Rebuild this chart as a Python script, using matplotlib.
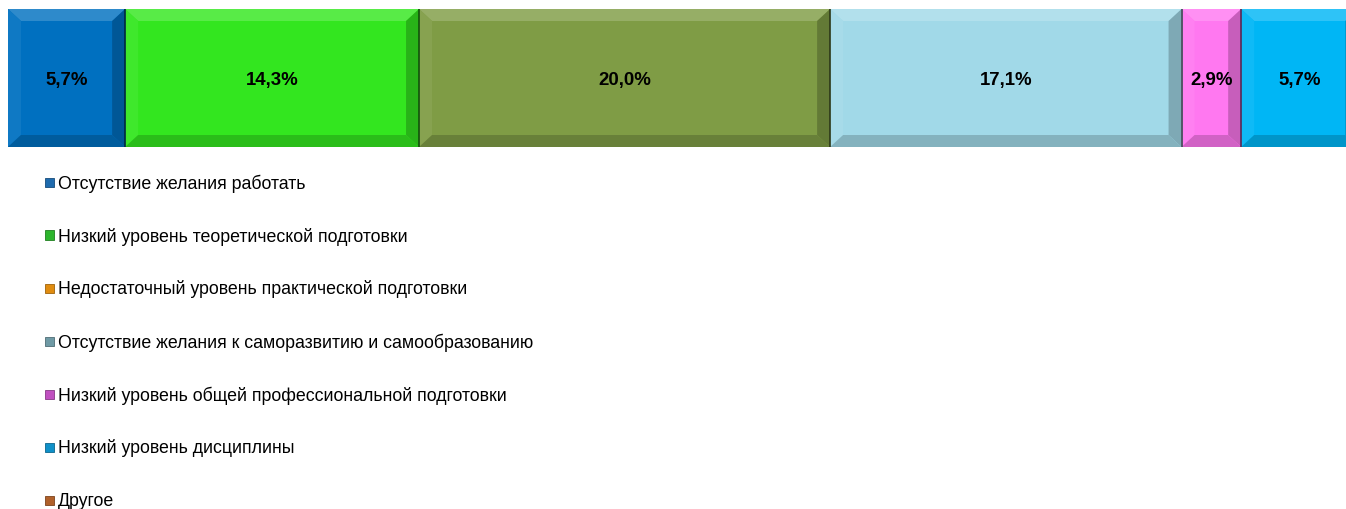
import matplotlib
matplotlib.use("Agg")
import matplotlib.pyplot as plt
from matplotlib.patches import Polygon, Rectangle
from matplotlib import font_manager
import matplotlib.colors as mcolors

categories = [
    "Отсутствие желания работать",
    "Низкий уровень теоретической подготовки",
    "Недостаточный уровень практической подготовки",
    "Отсутствие желания к саморазвитию и самообразованию",
    "Низкий уровень общей профессиональной подготовки",
    "Низкий уровень дисциплины",
    "Другое",
]
values = [5.7, 14.3, 20.0, 17.1, 2.9, 5.7, 34.3]
labels = ["5,7%", "14,3%", "20,0%", "17,1%", "2,9%", "5,7%", "34,3%"]
bar_colors = ["#0070C0", "#33E61F", "#7F9C45", "#A1D9E8", "#FF78F0", "#00B6F5", "#C0672E"]
legend_colors = ["#1F6BAE", "#2DB52D", "#E08C10", "#6F9AA5", "#C050C0", "#0F90C8", "#B0602A"]
x_max = 65.1

names = {f.name for f in font_manager.fontManager.ttflist}
narrow = "Liberation Sans Narrow" if "Liberation Sans Narrow" in names else "Liberation Sans"
plt.rcParams['font.family'] = [narrow, 'DejaVu Sans']

W, H = 1346, 510
fig = plt.figure(figsize=(W / 100, H / 100), dpi=100)
ax = fig.add_axes([8 / W, (H - 148) / H, (1346 - 8) / W, 138 / H])
ax.set_xlim(0, x_max)
ax.set_ylim(-0.5, 0.5)
ax.axis("off")

px_x = (1346 - 8) / x_max  # pixels per unit
bx = 13 / px_x
by = 12 / 138


def shade(c, f):
    r, g, b = mcolors.to_rgb(c)
    if f > 0:
        return (r + (1 - r) * f, g + (1 - g) * f, b + (1 - b) * f)
    return (r * (1 + f), g * (1 + f), b * (1 + f))


left = 0.0
for v, lab, col in zip(values, labels, bar_colors):
    bars = ax.barh(0, v, left=left, height=1.0, color=col, edgecolor="none")
    p = bars[0]
    x0, x1 = p.get_x(), p.get_x() + p.get_width()
    y0, y1 = p.get_y(), p.get_y() + p.get_height()
    # bevel edges
    ax.add_patch(Polygon([(x0, y1), (x1, y1), (x1 - bx, y1 - by), (x0 + bx, y1 - by)],
                         closed=True, color=shade(col, 0.18), lw=0))
    ax.add_patch(Polygon([(x0, y0), (x0, y1), (x0 + bx, y1 - by), (x0 + bx, y0 + by)],
                         closed=True, color=shade(col, 0.06), lw=0))
    ax.add_patch(Polygon([(x1, y0), (x1, y1), (x1 - bx, y1 - by), (x1 - bx, y0 + by)],
                         closed=True, color=shade(col, -0.22), lw=0))
    ax.add_patch(Polygon([(x0, y0), (x1, y0), (x1 - bx, y0 + by), (x0 + bx, y0 + by)],
                         closed=True, color=shade(col, -0.18), lw=0))
    ax.plot([x1, x1], [y0, y1], color=shade(col, -0.65), lw=1.2)
    cx = left + v / 2
    if cx < x_max:
        ax.text(cx, -0.01, lab, ha="center", va="center", fontsize=13.4,
                fontweight="bold", color="black")
    left += v

# legend
y_first = 183
step = 53
for i, (name, col) in enumerate(zip(categories, legend_colors)):
    yc = y_first + i * step
    fig.patches.append(Rectangle((45 / W, (H - yc - 4.5) / H), 9 / W, 9 / H,
                                 transform=fig.transFigure, facecolor=col,
                                 edgecolor=shade(col, -0.3), lw=0.6))
    fig.text(58 / W, (H - yc - 0.5) / H, name, ha="left", va="center",
             fontsize=12.8, color="black")

fig.savefig("out.png", dpi=100)
